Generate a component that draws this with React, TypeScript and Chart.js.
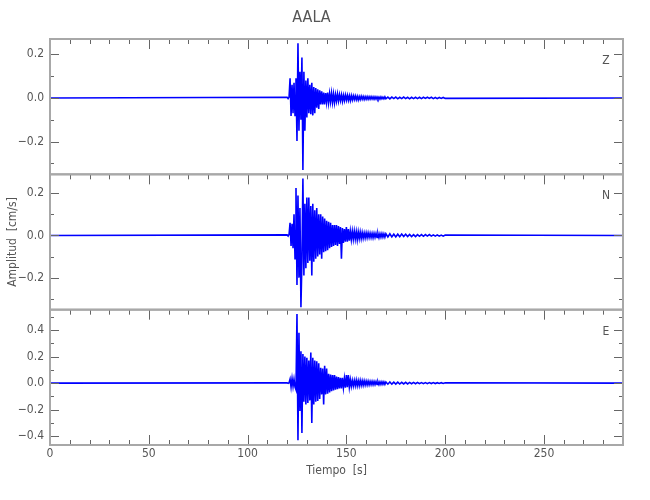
import React, { useEffect, useRef } from "react";
import { Chart, registerables } from "chart.js";

Chart.register(...registerables);

// ---- data (amplitudes in cm/s) ----
const STATION = "AALA";
const X_MIN = 0;
const X_MAX = 290;
const BURST_START = 120; // s
const BURST_DT = 0.5; // s
const CODA_START = 171; // s
const CODA_DT = 1; // s

const zBurst = [
  0.003, -0.003, 0.004, 0.09, -0.083, 0.06, -0.07, 0.07, -0.08, 0.09,
  -0.197, 0.25, -0.15, 0.12, -0.1, 0.185, -0.33, 0.12, -0.15, 0.08,
  -0.09, 0.09, -0.07, 0.06, -0.075, 0.07, -0.08, 0.05, -0.07, 0.045,
  -0.045, 0.04, -0.05, 0.035, -0.03, 0.03, -0.03, 0.025, -0.03, 0.022,
  -0.02, 0.025, -0.022, 0.02, -0.018, 0.022, -0.02, 0.018, -0.022, 0.015,
  -0.015, 0.018, -0.014, 0.015, -0.012, 0.014, -0.015, 0.012, -0.012, 0.013,
  -0.01, 0.012, -0.011, 0.01, -0.012, 0.011, -0.009, 0.01, -0.008, 0.009,
  -0.008, 0.008, -0.009, 0.007, -0.007, 0.008, -0.006, 0.007, -0.007, 0.006,
  -0.006, 0.006, -0.006, 0.006, -0.005, 0.006, -0.005, 0.005, -0.006, 0.005,
  -0.005, 0.005, -0.005, 0.004, -0.005, 0.005, -0.004, 0.004, -0.004, 0.005,
  -0.004,
];
const zCoda = [
  0.004, -0.004, 0.004, -0.003, 0.004, -0.004, 0.003, -0.003, 0.004, -0.003,
  0.003, -0.004, 0.003, -0.003, 0.003, -0.003, 0.003, -0.003, 0.003, -0.002,
  0.003, -0.002, 0.003, -0.003, 0.002, -0.003, 0.002, -0.002, 0.002, -0.002,
];

const nBurst = [
  0.003, -0.003, 0.005, 0.06, -0.05, 0.055, -0.06, 0.1, -0.11, 0.225,
  -0.235, 0.19, -0.2, 0.13, -0.34, -0.12, 0.27, -0.19, 0.15, -0.155,
  0.18, -0.13, 0.18, -0.12, 0.14, -0.19, 0.15, -0.125, 0.12, -0.11,
  0.13, -0.1, 0.1, -0.09, 0.1, -0.11, 0.09, -0.08, 0.08, -0.075,
  0.07, -0.07, 0.065, -0.06, 0.06, -0.055, 0.05, -0.05, 0.05, -0.045,
  0.05, -0.05, 0.045, -0.04, 0.04, -0.11, 0.035, -0.035, 0.03, -0.03,
  0.04, -0.03, 0.03, -0.025, 0.02, -0.02, 0.02, -0.018, 0.02, -0.017,
  0.018, -0.02, 0.017, -0.015, 0.016, -0.015, 0.014, -0.013, 0.012, -0.012,
  0.012, -0.011, 0.012, -0.01, 0.011, -0.01, 0.01, -0.011, 0.01, -0.009,
  0.01, -0.009, 0.009, -0.01, 0.009, -0.008, 0.009, -0.008, 0.008, -0.008,
  0.008,
];
const nCoda = [
  -0.007, 0.008, -0.007, 0.006, -0.007, 0.006, -0.006, 0.007, -0.005, 0.006,
  -0.005, 0.005, -0.005, 0.004, -0.005, 0.004, -0.004, 0.004, -0.004, 0.004,
  -0.003, 0.004, -0.003, 0.003, -0.003, 0.003, -0.003, 0.002, -0.003, 0.002,
];

const eBurst = [
  0.002, -0.002, 0.003, 0.03, -0.03, 0.035, -0.025, 0.03, -0.03, -0.05,
  0.52, -0.43, 0.38, -0.21, 0.24, -0.375, 0.22, -0.14, 0.2, -0.16,
  0.19, -0.15, 0.17, -0.13, 0.23, -0.3, 0.19, -0.16, 0.17, -0.14,
  0.165, -0.135, 0.15, -0.12, 0.115, -0.085, 0.11, -0.16, 0.13, -0.085,
  0.11, -0.08, 0.07, -0.07, 0.065, -0.06, 0.06, -0.055, 0.06, -0.05,
  0.05, -0.045, 0.045, -0.04, 0.04, -0.04, 0.04, -0.035, 0.035, -0.035,
  0.06, -0.03, 0.06, -0.03, 0.025, -0.025, 0.02, -0.022, 0.02, -0.02,
  0.022, -0.02, 0.018, -0.02, 0.02, -0.017, 0.018, -0.016, 0.017, -0.015,
  0.015, -0.014, 0.015, -0.014, 0.013, -0.012, 0.013, -0.012, 0.012, -0.011,
  0.012, -0.011, 0.01, -0.011, 0.01, -0.01, 0.01, -0.009, 0.009, -0.009,
  0.009,
];
const eCoda = [
  -0.008, 0.008, -0.008, 0.007, -0.007, 0.007, -0.007, 0.006, -0.006, 0.006,
  -0.006, 0.005, -0.005, 0.005, -0.005, 0.005, -0.004, 0.004, -0.004, 0.004,
  -0.004, 0.004, -0.003, 0.004, -0.003, 0.003, -0.003, 0.003, -0.003, 0.003,
];

const componentNames = ["Z", "N", "E"];
const yMins = [-0.35, -0.352, -0.466];
const yMaxs = [0.27, 0.29, 0.553];
const Y_STEP = 0.1;
const X_STEP = 10;
const X_LABEL_EVERY = 50;

// ---- styles ----
const FONT = '"Liberation Sans Narrow", "DejaVu Sans Condensed", "Liberation Sans", sans-serif';
const TEXT = "#555555";
const FRAME = "#a8a8a8";
const TICK = "#666666";
const WAVE = "#0000ff";

function buildTrace(burst: number[], coda: number[]) {
  const pts: { x: number; y: number }[] = [{ x: X_MIN, y: 0 }];
  burst.forEach((v, i) => pts.push({ x: BURST_START + i * BURST_DT, y: v }));
  coda.forEach((v, i) => pts.push({ x: CODA_START + i * CODA_DT, y: v }));
  pts.push({ x: X_MAX, y: 0 });
  return pts;
}

const traces = [buildTrace(zBurst, zCoda), buildTrace(nBurst, nCoda), buildTrace(eBurst, eCoda)];
const axisIds = ["yZ", "yN", "yE"];

function yLabel(v: number | string) {
  const k = Math.round(Number(v) * 10);
  if (k % 2 !== 0) return "";
  const s = (Math.abs(k) / 10).toFixed(1);
  return k < 0 ? "\u2212" + s : s;
}

const framePlugin = {
  id: "seisFrame",
  afterDraw(chart: any) {
    const ctx = chart.ctx;
    const { left, right } = chart.chartArea;
    const xs = chart.scales.x;
    ctx.save();
    axisIds.forEach((id, idx) => {
      const s = chart.scales[id];
      const top = s.top;
      const bottom = s.bottom;
      ctx.strokeStyle = TICK;
      ctx.lineWidth = 1;
      ctx.beginPath();
      for (let t = X_MIN; t <= X_MAX + 1e-6; t += X_STEP) {
        const px = Math.round(xs.getPixelForValue(t)) + 0.5;
        const len = t % X_LABEL_EVERY === 0 ? 10 : 5;
        ctx.moveTo(px, top);
        ctx.lineTo(px, top + len);
        if (idx === axisIds.length - 1) {
          ctx.moveTo(px, bottom);
          ctx.lineTo(px, bottom - len);
        }
      }
      const k0 = Math.ceil(s.min / Y_STEP - 1e-6);
      const k1 = Math.floor(s.max / Y_STEP + 1e-6);
      for (let k = k0; k <= k1; k++) {
        const py = Math.round(s.getPixelForValue(k * Y_STEP)) + 0.5;
        const len = k % 2 === 0 ? 9 : 4;
        ctx.moveTo(left, py);
        ctx.lineTo(left + len, py);
        ctx.moveTo(right, py);
        ctx.lineTo(right - len, py);
      }
      ctx.stroke();
      ctx.strokeStyle = FRAME;
      ctx.lineWidth = 2;
      ctx.strokeRect(left, top, right - left, bottom - top);
      ctx.fillStyle = TEXT;
      ctx.font = "12px " + FONT;
      ctx.textAlign = "center";
      ctx.textBaseline = "middle";
      ctx.fillText(componentNames[idx], right - 17, top + 22);
    });
    ctx.restore();
  },
};

export default function App() {
  const ref = useRef<HTMLCanvasElement>(null);
  useEffect(() => {
    if (!ref.current) return;
    const yScales: any = {};
    axisIds.forEach((id, i) => {
      yScales[id] = {
        type: "linear",
        position: "left",
        stack: "panels",
        stackWeight: 1,
        weight: 3 - i,
        min: yMins[i],
        max: yMaxs[i],
        grid: { display: false, drawTicks: false },
        border: { display: false },
        ticks: {
          stepSize: Y_STEP,
          includeBounds: false,
          autoSkip: false,
          padding: 6,
          color: TEXT,
          font: { family: FONT, size: 12 },
          callback: (v: any) => yLabel(v),
        },
        title: {
          display: i === 1,
          text: "Amplitud  [cm/s]",
          color: TEXT,
          font: { family: FONT, size: 12 },
          padding: { top: 6, bottom: 0 },
        },
        afterFit: (s: any) => {
          s.width = 50;
        },
      };
    });
    const chart = new Chart(ref.current, {
      type: "line",
      data: {
        datasets: traces.map((d, i) => ({
          label: componentNames[i],
          data: d,
          yAxisID: axisIds[i],
          borderColor: WAVE,
          borderWidth: 1.6,
          pointRadius: 0,
          tension: 0,
          fill: false,
        })),
      },
      options: {
        animation: false,
        responsive: false,
        events: [],
        layout: { padding: { left: 0, right: 27, top: 0, bottom: 0 } },
        plugins: {
          legend: { display: false },
          tooltip: { enabled: false },
          title: {
            display: true,
            text: STATION,
            color: TEXT,
            font: { family: FONT, size: 16, weight: "normal", lineHeight: 1 },
            padding: { top: 10, bottom: 13 },
          },
        },
        scales: {
          x: {
            type: "linear",
            position: "bottom",
            min: X_MIN,
            max: X_MAX,
            grid: { display: false, drawTicks: false },
            border: { display: false },
            ticks: {
              stepSize: X_STEP,
              autoSkip: false,
              maxRotation: 0,
              padding: 2,
              color: TEXT,
              font: { family: FONT, size: 12 },
              callback: (v: any) => (Math.round(Number(v)) % X_LABEL_EVERY === 0 ? String(Math.round(Number(v))) : ""),
            },
            title: {
              display: true,
              text: "Tiempo  [s]",
              color: TEXT,
              font: { family: FONT, size: 12 },
              padding: { top: 0, bottom: 22 },
            },
            afterFit: (s: any) => {
              s.height = 55;
            },
          },
          ...yScales,
        },
      } as any,
      plugins: [framePlugin],
    });
    return () => chart.destroy();
  }, []);
  return (
    <div style={{ position: "absolute", left: 0, top: 0, width: 650, height: 500, background: "#fff" }}>
      <canvas ref={ref} width={650} height={500} style={{ display: "block" }} />
    </div>
  );
}
